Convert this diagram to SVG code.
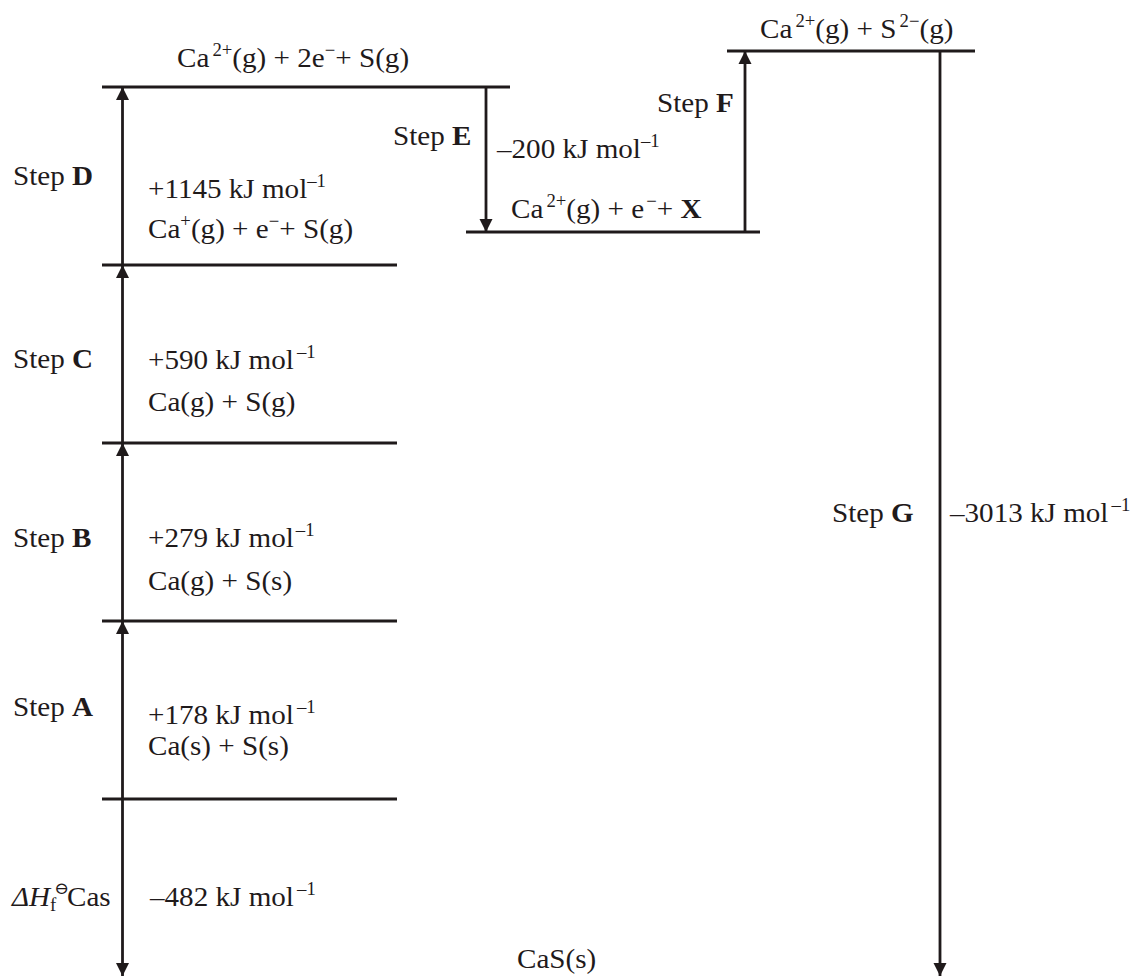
<svg xmlns="http://www.w3.org/2000/svg" width="1136" height="978" viewBox="0 0 1136 978">
<style>
text{font-family:"Liberation Serif","Times New Roman",serif;font-size:28px;fill:#1f1a1b}
.lv{stroke:#1f1a1b;stroke-width:2.8;fill:none}
.ar{stroke:#1f1a1b;stroke-width:2.8;fill:none;marker-end:url(#ah)}
.b{font-weight:bold}
.sup{font-size:18px}
</style>
<defs>
<marker id="ah" markerUnits="userSpaceOnUse" markerWidth="14" markerHeight="14" refX="13" refY="6.5" orient="auto" viewBox="0 0 14 13">
<path d="M0,0 L13,6.5 L0,13 z" fill="#1f1a1b"/>
</marker>
</defs>
<rect width="1136" height="978" fill="#ffffff"/>

<g id="level-ca2-2e-s">
<line class="lv" x1="102" y1="87" x2="510" y2="87"/>
<text transform="translate(177,67) scale(1.04,1)">Ca<tspan class="sup" dx="3" dy="-11">2+</tspan><tspan dy="11">(g) + 2e</tspan><tspan class="sup" dy="-11">−</tspan><tspan dy="11">+ S(g)</tspan></text>
</g>

<g id="level-ca1-e-s">
<line class="lv" x1="102" y1="265" x2="397" y2="265"/>
<text transform="translate(148,238) scale(1.04,1)">Ca<tspan class="sup" dy="-11">+</tspan><tspan dy="11">(g) + e</tspan><tspan class="sup" dy="-11">−</tspan><tspan dy="11">+ S(g)</tspan></text>
</g>

<g id="level-cag-sg">
<line class="lv" x1="102" y1="443" x2="397" y2="443"/>
<text transform="translate(148,411) scale(1.04,1)">Ca(g) + S(g)</text>
</g>

<g id="level-cag-ss">
<line class="lv" x1="102" y1="621" x2="397" y2="621"/>
<text transform="translate(148,590) scale(1.04,1)">Ca(g) + S(s)</text>
</g>

<g id="level-cas-ss">
<line class="lv" x1="102" y1="799" x2="397" y2="799"/>
<text transform="translate(148,755) scale(1.04,1)">Ca(s) + S(s)</text>
</g>

<g id="level-cas">
<text transform="translate(517,968) scale(1.04,1)">CaS(s)</text>
</g>

<g id="level-ca2-e-x">
<line class="lv" x1="466" y1="232" x2="760" y2="232"/>
<text transform="translate(511,218) scale(1.04,1)">Ca<tspan class="sup" dx="3" dy="-11">2+</tspan><tspan dy="11">(g) + e</tspan><tspan class="sup" dx="2" dy="-11">−</tspan><tspan dy="11">+ </tspan><tspan class="b">X</tspan></text>
</g>

<g id="level-ca2-s2">
<line class="lv" x1="727" y1="51" x2="975" y2="51"/>
<text transform="translate(760,38) scale(1.04,1)">Ca<tspan class="sup" dx="3" dy="-11">2+</tspan><tspan dy="11">(g) + S</tspan><tspan class="sup" dx="3" dy="-11">2−</tspan><tspan dy="11">(g)</tspan></text>
</g>

<g id="connectors">
<line class="ar" x1="122.5" y1="799" x2="122.5" y2="621"/>
<line class="ar" x1="122.5" y1="621" x2="122.5" y2="443"/>
<line class="ar" x1="122.5" y1="443" x2="122.5" y2="265"/>
<line class="ar" x1="122.5" y1="265" x2="122.5" y2="87"/>
<line class="ar" x1="122.5" y1="799" x2="122.5" y2="976"/>
<line class="ar" x1="486" y1="87" x2="486" y2="232"/>
<line class="ar" x1="745" y1="232" x2="745" y2="51"/>
<line class="ar" x1="940" y1="51" x2="940" y2="976"/>

<text transform="translate(13,185) scale(1.04,1)">Step <tspan class="b">D</tspan></text>
<text transform="translate(148,198) scale(1.04,1)">+1145 kJ mol<tspan class="sup" dy="-11">–1</tspan></text>

<text transform="translate(393,145) scale(1.04,1)">Step <tspan class="b">E</tspan></text>
<text transform="translate(497,158) scale(1.04,1)">–200 kJ mol<tspan class="sup" dy="-11">–1</tspan></text>

<text transform="translate(657,112) scale(1.04,1)">Step <tspan class="b">F</tspan></text>

<text transform="translate(13,368) scale(1.04,1)">Step <tspan class="b">C</tspan></text>
<text transform="translate(148,369) scale(1.04,1)">+590 kJ mol<tspan class="sup" dx="3" dy="-11">–1</tspan></text>

<text transform="translate(13,547) scale(1.04,1)">Step <tspan class="b">B</tspan></text>
<text transform="translate(148,547) scale(1.04,1)">+279 kJ mol<tspan class="sup" dx="2" dy="-11">–1</tspan></text>

<text transform="translate(13,716) scale(1.04,1)">Step <tspan class="b">A</tspan></text>
<text transform="translate(148,724) scale(1.04,1)">+178 kJ mol<tspan class="sup" dx="3" dy="-11">–1</tspan></text>

<text transform="translate(12,906) scale(1.04,1)"><tspan font-style="italic">ΔH</tspan><tspan class="sup" dy="5">f</tspan><tspan font-family="DejaVu Serif,serif" font-size="17" dx="-2" dy="-17">⊖</tspan><tspan dx="-2" dy="12">Cas</tspan></text>
<text transform="translate(150,906) scale(1.04,1)">–482 kJ mol<tspan class="sup" dx="3" dy="-11">–1</tspan></text>

<text transform="translate(832,522) scale(1.04,1)">Step <tspan class="b">G</tspan></text>
<text transform="translate(950,522) scale(1.04,1)">–3013 kJ mol<tspan class="sup" dx="3" dy="-11">–1</tspan></text>
</g>
</svg>
